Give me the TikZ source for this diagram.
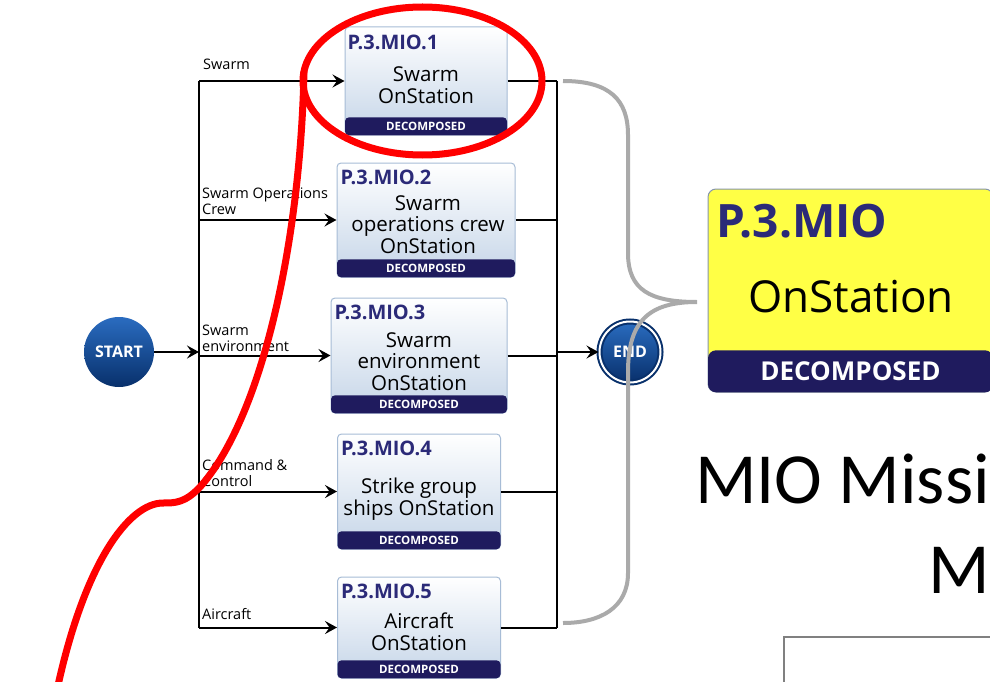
\documentclass[tikz,border=0pt]{standalone}
\usepackage{fontspec}
\setmainfont{Open Sans}
\newfontfamily\calibri{Carlito}
\usetikzlibrary{arrows.meta}

\definecolor{hdblue}{HTML}{2B2A78}
\definecolor{bandblue}{HTML}{1F1B5E}
\definecolor{boxedge}{HTML}{A7BCD6}
\definecolor{boxlow}{HTML}{C5D5E8}
\definecolor{ballhi}{HTML}{2A6CC0}
\definecolor{balllo}{HTML}{08306B}
\definecolor{hilite}{HTML}{FFFF45}
\definecolor{bracegray}{HTML}{AAAAAA}

\tikzset{
  task/.style={draw=boxedge, line width=1pt, rounded corners=4pt, top color=white, bottom color=boxlow, inner sep=0pt},
  band/.style={fill=bandblue, rounded corners=4pt, text=white, font=\fontsize{11.5}{12}\bfseries, inner sep=0pt, minimum height=18pt, anchor=south},
  head/.style={anchor=north west, text=hdblue, font=\fontsize{20}{21}\bfseries, inner sep=0pt},
  body/.style={align=center, font=\fontsize{20.5}{21.5}\selectfont, inner sep=0pt},
  flowlabel/.style={anchor=south west, align=left, font=\fontsize{14.5}{16}\selectfont, inner sep=0pt},
  wire/.style={line width=2pt},
  flow/.style={wire, -{Stealth[length=12pt,width=13pt,inset=4.5pt]}},
  ball/.style={circle, inner sep=0pt, top color=ballhi, bottom color=balllo, text=white, font=\fontsize{16}{17}\bfseries},
  redpen/.style={draw=red, line width=7pt, line cap=round},
}

\begin{document}
\begin{tikzpicture}[x=1pt, y=-1pt]
  \useasboundingbox (0,0) rectangle (990,682);
  \fill[white] (0,0) rectangle (990,682);
  \clip (0,0) rectangle (990,682);

  % start and end
  \node[ball, minimum size=70pt] (start) at (119,352) {START};
  \node[ball, minimum size=61pt, draw=balllo, line width=2pt, double=white, double distance=2pt] (end) at (630,352) {END};
  \coordinate (lbus) at (199,352);
  \coordinate (rbus) at (557,352);

  % sub-process boxes
  \node[task, minimum width=162pt, minimum height=108pt] (t1) at (426,81) {};
  \node[task, minimum width=178pt, minimum height=114pt] (t2) at (426,220) {};
  \node[task, minimum width=176pt, minimum height=115pt] (t3) at (419,355.5) {};
  \node[task, minimum width=163pt, minimum height=115pt] (t4) at (419,491.5) {};
  \node[task, minimum width=163pt, minimum height=101pt] (t5) at (419,627.5) {};

  \node[band, minimum width=162pt] (d1) at (t1.south) {DECOMPOSED};
  \node[band, minimum width=178pt] (d2) at (t2.south) {DECOMPOSED};
  \node[band, minimum width=176pt] (d3) at (t3.south) {DECOMPOSED};
  \node[band, minimum width=163pt] (d4) at (t4.south) {DECOMPOSED};
  \node[band, minimum width=163pt] (d5) at (t5.south) {DECOMPOSED};

  \node[head] (h1) at ([shift={(3pt,-8pt)}]t1.north west) {P.3.MIO.1};
  \node[head] (h2) at ([shift={(4pt,-7pt)}]t2.north west) {P.3.MIO.2};
  \node[head] (h3) at ([shift={(4pt,-7pt)}]t3.north west) {P.3.MIO.3};
  \node[head] (h4) at ([shift={(4pt,-7pt)}]t4.north west) {P.3.MIO.4};
  \node[head] (h5) at ([shift={(4pt,-7pt)}]t5.north west) {P.3.MIO.5};

  \node[body] (b1) at (426,85) {Swarm\\OnStation};
  \node[body] (b2) at (428,224.5) {Swarm\\operations crew\\OnStation};
  \node[body] (b3) at (419,361.5) {Swarm\\environment\\OnStation};
  \node[body] (b4) at (419,499) {Strike group\\ships OnStation};
  \node[body] (b5) at (419,632) {Aircraft\\OnStation};

  % wires
  \draw[flow] (start.east) -- (lbus);
  \draw[wire] (lbus |- t1.west) -- (lbus |- t5.west);
  \draw[wire] (rbus |- t1.east) -- (rbus |- t5.east);
  \foreach \t in {t1,t2,t3,t4,t5}{
    \draw[flow] (lbus |- \t.west) -- (\t.west);
    \draw[wire] (\t.east) -- (rbus |- \t.east);
  }
  \draw[flow] (rbus) -- (end.west);

  \node[flowlabel] (l1) at (203,70) {Swarm};
  \node[flowlabel] (l2) at (202,215) {Swarm Operations\\Crew};
  \node[flowlabel] (l3) at (202,352) {Swarm\\environment};
  \node[flowlabel] (l4) at (202,487) {Command \&\\Control};
  \node[flowlabel] (l5) at (202,620) {Aircraft};

  % parent process
  \node[draw=boxedge!80!black, line width=1pt, fill=hilite, rounded corners=8pt, minimum width=285pt, minimum height=203pt, inner sep=0pt] (mio) at (850.5,290.5) {};
  \node[fill=bandblue, rounded corners=8pt, minimum width=285pt, minimum height=42pt, inner sep=0pt, anchor=south, text=white, font=\fontsize{26}{27}\bfseries] (miod) at (mio.south) {DECOMPOSED};
  \node[anchor=north west, inner sep=0pt, text=hdblue, font=\fontsize{46}{48}\bfseries] (mioh) at ([shift={(9pt,-15pt)}]mio.north west) {P.3.MIO};
  \node[anchor=base, inner sep=0pt, font=\fontsize{44}{46}\selectfont] (miob) at (851,312) {OnStation};

  % grey brace
  \draw[bracegray, line width=4pt] (563,81) .. controls (610,81) and (628,100) .. (628,135)
    -- (628,253) .. controls (628,290) and (650,302) .. (697,302)
    .. controls (650,302) and (628,320) .. (628,372)
    -- (628,573) .. controls (628,608) and (600,623) .. (563,623);

  % title text and frame
  \node[anchor=base west, inner sep=0pt, font=\calibri\fontsize{72}{74}\selectfont] (title1) at (695,503) {MIO Missi};
  \node[anchor=base west, inner sep=0pt, font=\calibri\fontsize{72}{74}\selectfont] (title2) at (928,593) {M};
  \draw[gray, line width=2pt] (784,690) -- (784,637) -- (1000,637);

  % red annotation
  \draw[redpen] (422.5,81) ellipse [x radius=119.5, y radius=74];
  \draw[redpen] (304,72) .. controls (300,250) and (260,420) .. (200,487)
    .. controls (185,503) and (175,503) .. (163,503)
    .. controls (130,503) and (85,560) .. (57,690);
\end{tikzpicture}
\end{document}
